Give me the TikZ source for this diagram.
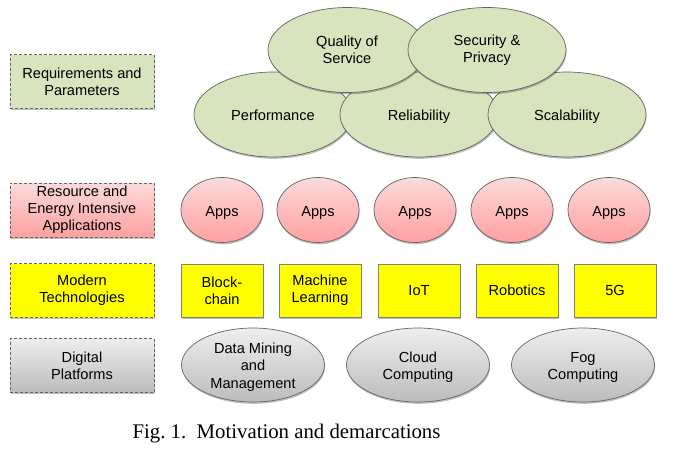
\documentclass[tikz,border=0pt]{standalone}
\usepackage{fontspec}
\setmainfont{Liberation Serif}
\newfontfamily\arialfont{Liberation Sans}
\usetikzlibrary{shapes.geometric,shadows}
\definecolor{sage}{RGB}{215,228,189}
\definecolor{edgegray}{RGB}{100,100,100}
\definecolor{pinktop}{RGB}{252,218,218}
\definecolor{pinkbot}{RGB}{255,160,160}
\definecolor{graytop}{RGB}{238,238,238}
\definecolor{graybot}{RGB}{188,188,188}
\definecolor{yel}{RGB}{255,255,0}
\newcommand{\lowtext}[2][2.5pt]{\raisebox{-#1}[\height][\depth]{#2}}
\newcommand{\lowstack}[2][2.5pt]{\raisebox{-#1}[\height][\depth]{\begin{tabular}{@{}c@{}}#2\end{tabular}}}
\begin{document}
\begin{tikzpicture}[x=1pt,y=-1pt,
  every node/.style={font=\arialfont\fontsize{14.6}{17.2}\selectfont, align=center, inner sep=0pt},
  shad/.style={drop shadow={shadow xshift=0.6pt,shadow yshift=-1.8pt,opacity=0.25,fill=black}},
  greenell/.style={ellipse, draw=edgegray, line width=0.7pt, fill=sage, minimum width=158pt, minimum height=85pt, shad},
  appell/.style={ellipse, draw=edgegray, line width=0.7pt, top color=pinktop, bottom color=pinkbot, minimum width=82pt, minimum height=65pt, shad},
  techbox/.style={rectangle, draw=gray, line width=0.7pt, fill=yel, minimum width=82pt, minimum height=53pt, shad},
  platell/.style={ellipse, draw=edgegray, line width=0.7pt, top color=graytop, bottom color=graybot, minimum width=143pt, minimum height=74pt, shad},
  labelbox/.style={rectangle, draw=edgegray, densely dashed, line width=0.7pt, minimum width=144pt, minimum height=54pt, shad},
]
\useasboundingbox (0,0) rectangle (673,453);

% left labels
\node[labelbox, fill=sage] (req) at (82,81.5) {Requirements and\\Parameters};
\node[labelbox, top color=pinktop, bottom color=pinkbot] (res) at (82,210) {Resource and\\Energy Intensive\\Applications};
\node[labelbox, fill=yel] (mod) at (82,290.5) {Modern\\Technologies};
\node[labelbox, top color=graytop, bottom color=graybot] (dig) at (82,365.5) {Digital\\Platforms};

% requirements ellipses
\node[greenell] (perf) at (273,114.5) {\lowtext[1pt]{Performance}};
\node[greenell] (rel) at (419,114.5) {\lowtext[2pt]{Reliability}};
\node[greenell] (scal) at (567,114.5) {\lowtext[2pt]{Scalability}};
\node[greenell] (qos) at (347,50) {Quality of\\Service};
\node[greenell] (sec) at (487,50) {Security \&\\Privacy};

% apps
\node[appell] (app1) at (222,210) {\lowtext{Apps}};
\node[appell] (app2) at (318,210) {\lowtext{Apps}};
\node[appell] (app3) at (415,210) {\lowtext{Apps}};
\node[appell] (app4) at (512,210) {\lowtext{Apps}};
\node[appell] (app5) at (609,210) {\lowtext{Apps}};

% technologies
\node[techbox] (blk) at (222,290.5) {Block-\\chain};
\node[techbox] (ml) at (320,290.5) {Machine\\Learning};
\node[techbox] (iot) at (419,290.5) {IoT};
\node[techbox] (rob) at (517,290.5) {Robotics};
\node[techbox] (fiveg) at (615,290.5) {5G};

% platforms
\node[platell] (dm) at (253,365) {\lowstack{Data Mining\\and\\Management}};
\node[platell] (cloud) at (418,365) {\lowstack{Cloud\\Computing}};
\node[platell] (fog) at (583,365) {\lowstack{Fog\\Computing}};

% caption
\node[font=\rmfamily\fontsize{20.8}{25}\selectfont, anchor=base] (cap) at (286.5,438) {Fig.~1.\ \ Motivation and demarcations};
\end{tikzpicture}
\end{document}
